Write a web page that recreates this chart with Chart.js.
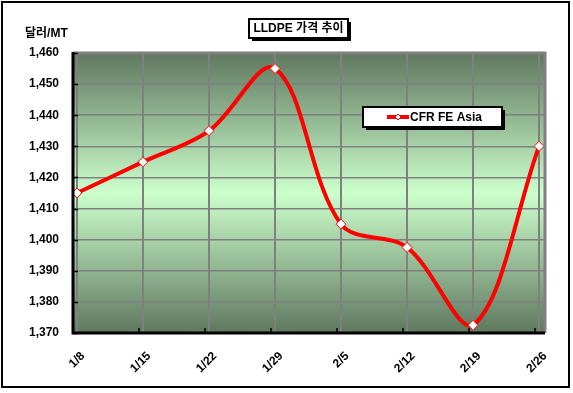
<!DOCTYPE html>
<html>
<head>
<meta charset="utf-8">
<script src="https://cdn.jsdelivr.net/npm/chart.js@4/dist/chart.umd.min.js"></script>
<style>
  html, body { margin: 0; padding: 0; background: #fff; }
  canvas { display: block; }
</style>
</head>
<body>
<canvas id="priceChart" width="573" height="393"></canvas>
<script>
// Chart data
const chartTitle = 'LLDPE 가격 추이';
const unitLabel = '달러/MT';
const weekLabels = ['1/8', '1/15', '1/22', '1/29', '2/5', '2/12', '2/19', '2/26'];
const seriesName = 'CFR FE Asia';
const cfrPrices = [1415, 1425, 1435, 1455, 1405, 1397.5, 1372.5, 1430];
const yTicks = [1370, 1380, 1390, 1400, 1410, 1420, 1430, 1440, 1450, 1460];

const boldFont = '"Liberation Sans", Arial, "Noto Sans CJK KR", sans-serif';

// Paint frame, plot background, axes and boxes
const decorPlugin = {
    id: 'decor',
    beforeDraw(chart) {
        const ctx = chart.ctx;
        const a = chart.chartArea;
        ctx.save();
        ctx.fillStyle = '#ffffff';
        ctx.fillRect(0, 0, chart.width, chart.height);
        ctx.strokeStyle = '#000000';
        ctx.lineWidth = 2;
        ctx.strokeRect(2, 2, 567, 385);

        // green gradient plot area
        const g = ctx.createLinearGradient(0, a.top, 0, a.bottom);
        g.addColorStop(0, '#5f785f');
        g.addColorStop(0.5, '#ccffcc');
        g.addColorStop(1, '#5f785f');
        ctx.fillStyle = g;
        ctx.fillRect(a.left, a.top, a.right - a.left, a.bottom - a.top);
        ctx.restore();
    },
    afterDatasetsDraw(chart) {
        const ctx = chart.ctx;
        const a = chart.chartArea;
        const x = chart.scales.x;
        const y = chart.scales.y;
        ctx.save();

        // top / right border of plot area
        ctx.strokeStyle = '#808080';
        ctx.lineWidth = 3;
        ctx.beginPath();
        ctx.moveTo(a.left, a.top);
        ctx.lineTo(a.right, a.top);
        ctx.lineTo(a.right, a.bottom);
        ctx.stroke();

        // axis lines
        ctx.strokeStyle = '#000000';
        ctx.lineWidth = 3;
        ctx.beginPath();
        ctx.moveTo(a.left, a.top - 1);
        ctx.lineTo(a.left, a.bottom);
        ctx.lineTo(a.right, a.bottom);
        ctx.stroke();

        // inside tick marks
        ctx.lineWidth = 1.5;
        ctx.beginPath();
        yTicks.forEach(v => {
            const py = Math.round(y.getPixelForValue(v)) + 0.5;
            ctx.moveTo(a.left, py);
            ctx.lineTo(a.left + 5, py);
        });
        weekLabels.forEach((lbl, i) => {
            const px = Math.round(x.getPixelForValue(i)) - 4;
            ctx.moveTo(px, a.bottom);
            ctx.lineTo(px, a.bottom - 5);
        });
        ctx.stroke();

        // unit label
        ctx.fillStyle = '#000000';
        ctx.font = 'bold 12px ' + boldFont;
        ctx.textAlign = 'left';
        ctx.textBaseline = 'middle';
        ctx.fillText(unitLabel, 25, 34);

        // title box
        drawBox(ctx, 249, 19, 99, 19);
        ctx.fillStyle = '#000000';
        ctx.font = 'bold 12px ' + boldFont;
        ctx.textAlign = 'center';
        ctx.fillText(chartTitle, 298.5, 29);

        // legend box
        drawBox(ctx, 363, 107, 139, 20);
        const ds = chart.data.datasets[0];
        ctx.strokeStyle = ds.borderColor;
        ctx.lineWidth = 4;
        ctx.beginPath();
        ctx.moveTo(387, 117);
        ctx.lineTo(409, 117);
        ctx.stroke();
        ctx.fillStyle = '#ffffff';
        ctx.strokeStyle = ds.borderColor;
        ctx.lineWidth = 1;
        ctx.beginPath();
        ctx.moveTo(398, 114);
        ctx.lineTo(401, 117);
        ctx.lineTo(398, 120);
        ctx.lineTo(395, 117);
        ctx.closePath();
        ctx.fill();
        ctx.stroke();
        ctx.fillStyle = '#000000';
        ctx.font = 'bold 12px ' + boldFont;
        ctx.textAlign = 'left';
        ctx.fillText(ds.label, 410, 118);

        ctx.restore();
    }
};

function drawBox(ctx, x, y, w, h) {
    ctx.fillStyle = '#000000';
    ctx.fillRect(x + 3, y + 3, w, h);
    ctx.fillStyle = '#ffffff';
    ctx.fillRect(x, y, w, h);
    ctx.strokeStyle = '#000000';
    ctx.lineWidth = 2;
    ctx.strokeRect(x, y, w, h);
}

const priceChart = new Chart(document.getElementById('priceChart').getContext('2d'), {
    type: 'line',
    data: {
        datasets: [{
            label: seriesName,
            data: cfrPrices.map((v, i) => ({ x: i, y: v })),
            borderColor: '#ff0000',
            borderWidth: 4,
            backgroundColor: '#ffffff',
            pointStyle: 'rectRot',
            pointRadius: 5,
            pointBorderWidth: 1,
            pointBackgroundColor: '#ffffff',
            pointBorderColor: '#ff0000',
            tension: 0.35,
            fill: false
        }]
    },
    options: {
        responsive: false,
        animation: false,
        devicePixelRatio: 1,
        layout: {
            padding: { top: 53, right: 28, left: 0, bottom: 0 }
        },
        scales: {
            x: {
                type: 'linear',
                min: -0.06,
                max: 7.09,
                afterBuildTicks: scale => {
                    scale.ticks = weekLabels.map((_, i) => ({ value: i }));
                },
                afterFit: scale => { scale.height = 60; },
                grid: {
                    color: '#808080',
                    lineWidth: 2,
                    drawTicks: false,
                    offset: false
                },
                border: { display: false },
                ticks: {
                    autoSkip: false,
                    maxRotation: 45,
                    minRotation: 45,
                    padding: 16,
                    labelOffset: 6,
                    color: '#000000',
                    font: { family: boldFont, size: 12, weight: 'bold' },
                    callback: value => weekLabels[value]
                }
            },
            y: {
                min: 1370,
                max: 1460,
                afterBuildTicks: scale => {
                    scale.ticks = yTicks.map(v => ({ value: v }));
                },
                afterFit: scale => { scale.width = 73; },
                grid: {
                    color: '#808080',
                    lineWidth: 1.5,
                    drawTicks: false
                },
                border: { display: false },
                ticks: {
                    padding: 14,
                    color: '#000000',
                    font: { family: boldFont, size: 12, weight: 'bold' },
                    callback: value => value.toLocaleString('en-US')
                }
            }
        },
        plugins: {
            legend: { display: false },
            title: { display: false },
            tooltip: { enabled: false }
        }
    },
    plugins: [decorPlugin]
});
</script>
</body>
</html>
